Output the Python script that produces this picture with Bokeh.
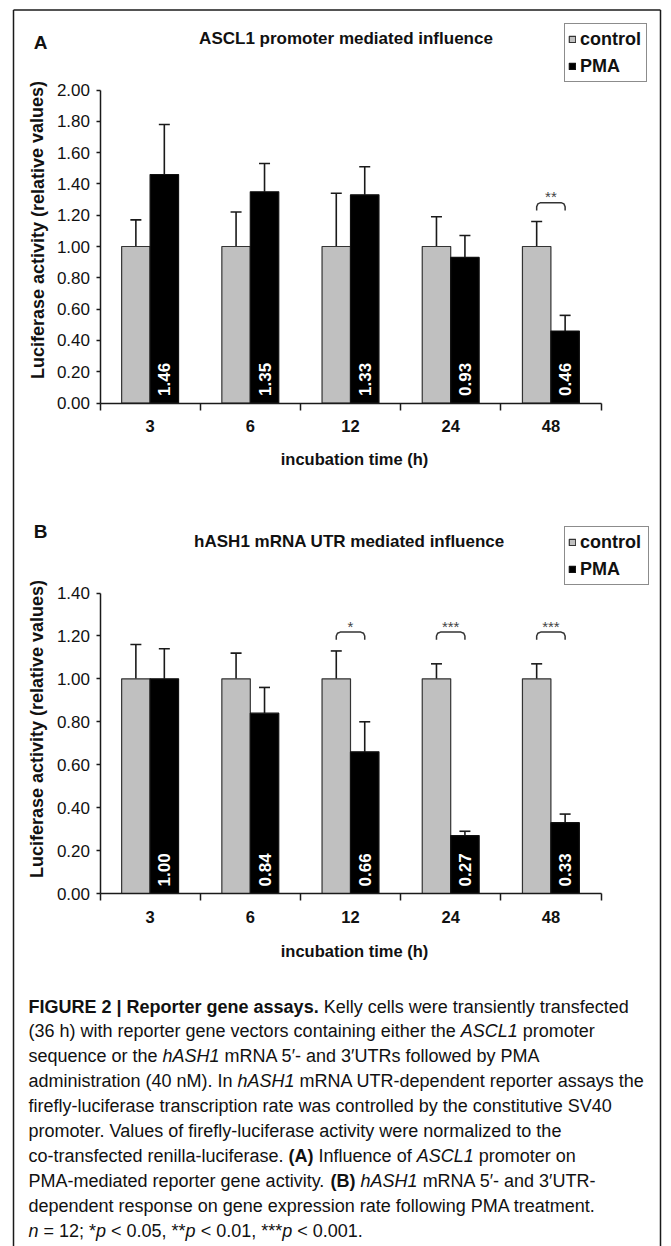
import math
from bokeh.plotting import figure
from bokeh.models import (Range1d, LinearAxis, FixedTicker, NumeralTickFormatter,
                          ColumnDataSource, Whisker, TeeHead, Legend, LegendItem)
from bokeh.transform import dodge
from bokeh.core.properties import value
from bokeh.embed import file_html
from bokeh.resources import INLINE

FONT = "Liberation Sans"
INK = "#1a1a1a"
W, H = 671, 1246

# ---------------- data ----------------
times = ["3", "6", "12", "24", "48"]
series_names = ["control", "PMA"]

a_control = [1.00, 1.00, 1.00, 1.00, 1.00]
a_control_err = [0.17, 0.22, 0.34, 0.19, 0.16]
a_pma = [1.46, 1.35, 1.33, 0.93, 0.46]
a_pma_err = [0.32, 0.18, 0.18, 0.14, 0.10]
a_sig_times = ["48"]
a_sig_stars = ["**"]
a_ticks = [0.0, 0.2, 0.4, 0.6, 0.8, 1.0, 1.2, 1.4, 1.6, 1.8, 2.0]

b_control = [1.00, 1.00, 1.00, 1.00, 1.00]
b_control_err = [0.16, 0.12, 0.13, 0.07, 0.07]
b_pma = [1.00, 0.84, 0.66, 0.27, 0.33]
b_pma_err = [0.14, 0.12, 0.14, 0.02, 0.04]
b_sig_times = ["12", "24", "48"]
b_sig_stars = ["*", "***", "***"]
b_ticks = [0.0, 0.2, 0.4, 0.6, 0.8, 1.0, 1.2, 1.4]

x_title = "incubation time (h)"
y_title = "Luciferase activity (relative values)"
a_title = "ASCL1 promoter mediated influence"
b_title = "hASH1 mRNA UTR mediated influence"

caption_lines = [
    [("FIGURE 2 | Reporter gene assays.", "bold"), (" Kelly cells were transiently transfected", "normal")],
    [("(36 h) with reporter gene vectors containing either the ", "normal"), ("ASCL1", "italic"), (" promoter", "normal")],
    [("sequence or the ", "normal"), ("hASH1", "italic"), (" mRNA 5\u2032- and 3\u2032UTRs followed by PMA", "normal")],
    [("administration (40 nM). In ", "normal"), ("hASH1", "italic"), (" mRNA UTR-dependent reporter assays the", "normal")],
    [("firefly-luciferase transcription rate was controlled by the constitutive SV40", "normal")],
    [("promoter. Values of firefly-luciferase activity were normalized to the", "normal")],
    [("co-transfected renilla-luciferase. ", "normal"), ("(A)", "bold"), (" Influence of ", "normal"),
     ("ASCL1", "italic"), (" promoter on", "normal")],
    [("PMA-mediated reporter gene activity. ", "normal"), ("(B)", "bold"), (" ", "normal"),
     ("hASH1", "italic"), (" mRNA 5\u2032- and 3\u2032UTR-", "normal")],
    [("dependent response on gene expression rate following PMA treatment.", "normal")],
    [("n", "italic"), (" = 12; *", "normal"), ("p", "italic"), (" < 0.05, **", "normal"), ("p", "italic"),
     (" < 0.01, ***", "normal"), ("p", "italic"), (" < 0.001.", "normal")],
]

# ---------------- font metrics (Arial / Liberation Sans, per 1000 em) ----------------
_CH = " !\"#$%&'()*+,-./0123456789:;<=>?@ABCDEFGHIJKLMNOPQRSTUVWXYZ[\\]^_`abcdefghijklmnopqrstuvwxyz{|}~"
_REG = [278, 278, 355, 556, 556, 889, 667, 191, 333, 333, 389, 584, 278, 333, 278, 278] + [556] * 10 + \
       [278, 278, 584, 584, 584, 556, 1015,
        667, 667, 722, 722, 667, 611, 778, 722, 278, 500, 667, 556, 833, 722, 778, 667, 778, 722, 667, 611,
        722, 667, 944, 667, 667, 611,
        278, 278, 278, 469, 556, 333,
        556, 556, 500, 556, 556, 278, 556, 556, 222, 222, 500, 222, 833, 556, 556, 556, 556, 333, 500, 278,
        556, 500, 722, 500, 500, 500,
        334, 260, 334, 584]
_BLD = [278, 333, 474, 556, 556, 889, 722, 238, 333, 333, 389, 584, 278, 333, 278, 278] + [556] * 10 + \
       [333, 333, 584, 584, 584, 611, 975,
        722, 722, 722, 722, 667, 611, 778, 722, 278, 556, 722, 611, 833, 722, 778, 667, 778, 722, 667, 611,
        722, 667, 944, 667, 667, 611,
        333, 278, 333, 584, 556, 333,
        556, 611, 556, 611, 556, 333, 611, 611, 278, 278, 556, 278, 889, 611, 611, 611, 611, 389, 556, 333,
        611, 556, 778, 556, 556, 500,
        389, 280, 389, 584]
W_REG = dict(zip(_CH, _REG))
W_BLD = dict(zip(_CH, _BLD))


def text_width(s, style, size):
    table = W_BLD if style == "bold" else W_REG
    return sum(table.get(ch, 250) for ch in s) / 1000.0 * size


# ---------------- layout geometry (canvas pixels) ----------------
n = len(times)
XL, XR = 99.5, 600.5            # category band -0.5 .. n-0.5
PX_X = (XR - XL) / n

panels = {
    "a": dict(ctrl=a_control, ctrl_err=a_control_err, pma=a_pma, pma_err=a_pma_err,
              sig_times=a_sig_times, sig_stars=a_sig_stars, ticks=a_ticks,
              y0=402.5, ytop=89.5, sig_lo=1.23, sig_hi=1.28,
              letter="A", letter_pos=(40, 41.5), title=a_title, title_pos=(345.5, 37.5),
              ylab_pos=(37, 229.5), xlab_pos=(354, 458), legend_box=(564, 27, 653, 82)),
    "b": dict(ctrl=b_control, ctrl_err=b_control_err, pma=b_pma, pma_err=b_pma_err,
              sig_times=b_sig_times, sig_stars=b_sig_stars, ticks=b_ticks,
              y0=893.0, ytop=592.5, sig_lo=1.182, sig_hi=1.218,
              letter="B", letter_pos=(40, 531), title=b_title, title_pos=(349, 541),
              ylab_pos=(36.5, 728.5), xlab_pos=(354, 950), legend_box=(564, 529, 655, 585)),
}

p = figure(width=W, height=H, output_backend="svg", toolbar_location=None,
           x_range=Range1d(-0.5 - XL / PX_X, n - 0.5 + (W - XR) / PX_X),
           y_range=Range1d(H, 0),                      # canvas pixels, for texts and frame
           x_axis_location=None, y_axis_location=None, min_border=0)
p.outline_line_color = None
p.grid.visible = False
p.background_fill_color = "white"
p.border_fill_color = "white"
p.extra_x_ranges = {"px": Range1d(0, W)}

texts = {}


def add_text(x, y, t, size, style="bold", angle=0.0, align="center"):
    d = texts.setdefault((style, align), dict(x=[], y=[], t=[], size=[], angle=[]))
    d["x"].append(x); d["y"].append(y); d["t"].append(t); d["size"].append("%gpx" % size)
    d["angle"].append(angle)


bw = 0.284
off = bw / 2

for key, g in panels.items():
    ymax = g["ticks"][-1]
    ppu = (g["y0"] - g["ytop"]) / ymax
    p.extra_y_ranges[key] = Range1d(-(H - g["y0"]) / ppu, ymax + g["ytop"] / ppu)

    ctrl, pma = g["ctrl"], g["pma"]
    src = ColumnDataSource(dict(
        t=times, pos=list(range(n)), c=ctrl, c_hi=[v + e for v, e in zip(ctrl, g["ctrl_err"])],
        m=pma, m_hi=[v + e for v, e in zip(pma, g["pma_err"])],
        m_txt=["%.2f" % v for v in pma]))

    rc = p.vbar(x=dodge("pos", -off), top="c", width=bw, source=src, y_range_name=key,
                fill_color="#c0c0c0", line_color="#333333", line_width=1.2)
    rm = p.vbar(x=dodge("pos", off), top="m", width=bw, source=src, y_range_name=key,
                fill_color="#000000", line_color="#111111", line_width=1.2)

    for lo, hi, o in (("c", "c_hi", -off), ("m", "m_hi", off)):
        p.add_layout(Whisker(source=src, base=dodge("pos", o), lower=lo, upper=hi, y_range_name=key,
                             dimension="height", line_color=INK, line_width=1.6, lower_head=None,
                             upper_head=TeeHead(size=11, line_color=INK, line_width=1.6),
                             level="underlay"))

    p.text(x=dodge("pos", off), y=0, text="m_txt", source=src, y_range_name=key, angle=math.pi / 2,
           text_align="left", text_baseline="middle", y_offset=-7, text_color="white",
           text_font=value(FONT), text_font_style="bold", text_font_size="17px")

    # significance brackets with stars
    lo_b, hi_b = g["sig_lo"], g["sig_hi"]
    rx = 4.0 / PX_X
    ry = 4.0 / ppu
    xs, ys, sx = [], [], []
    for t in g["sig_times"]:
        i = times.index(t)
        l, r = i - off, i + off
        xs.append([l, l, l + 0.3 * rx, l + rx, r - rx, r - 0.3 * rx, r, r])
        ys.append([lo_b, hi_b - ry, hi_b - 0.3 * ry, hi_b, hi_b, hi_b - 0.3 * ry, hi_b - ry, lo_b])
        sx.append(i)
    p.multi_line(xs, ys, y_range_name=key, line_color="#333333", line_width=1.5)
    p.text(x=sx, y=[hi_b] * len(sx), text=g["sig_stars"], y_range_name=key, text_align="center",
           text_baseline="middle", y_offset=-6, text_color="#444444", text_font=value(FONT),
           text_font_size="15px")

    # axes drawn at the panel's own origin
    yax = LinearAxis(y_range_name=key, fixed_location=-0.5, bounds=(0, ymax),
                     ticker=FixedTicker(ticks=g["ticks"]), formatter=NumeralTickFormatter(format="0.00"),
                     major_tick_in=0, major_tick_out=4, minor_tick_out=0, minor_tick_in=0,
                     major_label_standoff=6, axis_line_color=INK, axis_line_width=1.5,
                     major_tick_line_color=INK, major_tick_line_width=1.5,
                     major_label_text_font=FONT, major_label_text_font_size="17px",
                     major_label_text_color="#111111")
    p.add_layout(yax, "left")
    xax = LinearAxis(y_range_name=key, fixed_location=0, bounds=(-0.5, n - 0.5),
                     ticker=FixedTicker(ticks=list(range(n)), minor_ticks=[i - 0.5 for i in range(n + 1)]),
                     major_label_overrides={i: t for i, t in enumerate(times)},
                     major_tick_in=0, major_tick_out=0, major_tick_line_color=None,
                     minor_tick_in=0, minor_tick_out=7, minor_tick_line_color=INK,
                     minor_tick_line_width=1.5, axis_line_color=INK, axis_line_width=1.5,
                     major_label_standoff=10, major_label_text_font=FONT,
                     major_label_text_font_style="bold", major_label_text_font_size="16.5px",
                     major_label_text_color="#111111")
    p.add_layout(xax, "below")

    # titles and axis titles (canvas pixel positions)
    add_text(*g["letter_pos"], g["letter"], 19)
    add_text(*g["title_pos"], g["title"], 17)
    add_text(*g["ylab_pos"], y_title, 18, angle=math.pi / 2)
    add_text(*g["xlab_pos"], x_title, 16.5)

    lx0, ly0, lx1, ly1 = g["legend_box"]
    legend = Legend(items=[LegendItem(label=value(series_names[0]), renderers=[rc]),
                           LegendItem(label=value(series_names[1]), renderers=[rm])],
                    location=(lx0, H - ly1), orientation="vertical", margin=0,
                    glyph_width=8, glyph_height=8, label_standoff=4, padding=3, spacing=3,
                    label_height=24, label_width=int(lx1 - lx0 - 3 - 8 - 4 - 3 - 8),
                    border_line_color=INK, border_line_width=1.5,
                    background_fill_color="white", background_fill_alpha=1.0,
                    label_text_font=FONT, label_text_font_style="bold",
                    label_text_font_size="18px", label_text_color="#111111")
    p.add_layout(legend)

# figure frame (left, top, right)
p.segment(x0=[13, 13, 660], y0=[9.5, 9.5, 9.5], x1=[13, 660, 660], y1=[H, 9.5, H],
          x_range_name="px", line_color=INK, line_width=1.5)

# caption
CAP_SIZE = 18
for li, segs in enumerate(caption_lines):
    cx = 28.0
    cy = 1006 + 24.9 * li
    for s, st in segs:
        lead = len(s) - len(s.lstrip(" "))
        cx += text_width(s[:lead], st, CAP_SIZE)       # SVG drops leading blanks
        body = s.lstrip(" ")
        if body:
            add_text(cx, cy, body, CAP_SIZE, style=st, align="left")
        cx += text_width(body, st, CAP_SIZE)

for (st, al), d in texts.items():
    src = ColumnDataSource(d)
    p.text(x="x", y="y", text="t", angle="angle", text_font_size="size", source=src, x_range_name="px",
           text_align=al, text_baseline="middle", text_font=value(FONT), text_color="#111111",
           text_font_style="bold" if st == "bold" else ("italic" if st == "italic" else "normal"))

open("out.html", "w").write(file_html(p, INLINE))
